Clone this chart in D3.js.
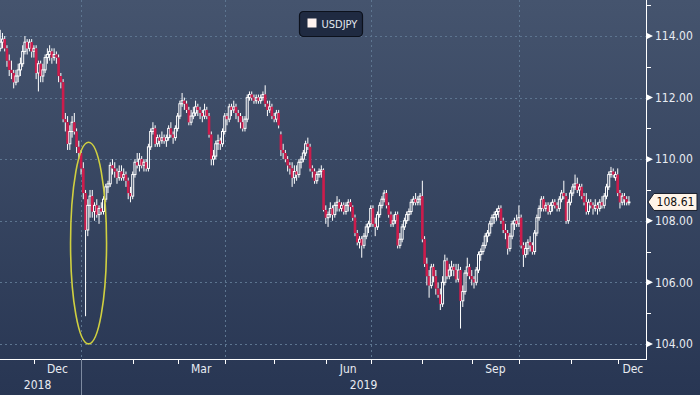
<!DOCTYPE html>
<html>
<head>
<meta charset="utf-8">
<script src="https://cdn.jsdelivr.net/npm/d3@7"></script>
<style>
  body { margin: 0; background: #2b3955; }
  svg { display: block; }
  text { font-family: "DejaVu Sans Condensed", "Liberation Sans Narrow", "DejaVu Sans", sans-serif; }
</style>
</head>
<body>
<svg width="700" height="395"></svg>
<script>
// USDJPY daily candles, 9 Nov 2018 - 9 Dec 2019 (weekdays only)
const opens = [
  113.6,113.8,113.9,113.6,113.2,112.9,112.8,112.5,112.7,112.9,
  113.1,113.5,113.8,113.6,113.8,113.5,113.6,112.8,113.1,112.7,
  112.9,113.3,113.4,113.5,113.3,113.4,113.3,112.7,112.5,111.3,
  111.2,110.5,110.9,111.2,110.9,110.4,110.2,109.7,108.9,107.7,
  108.5,108.8,108.3,108.5,108.2,108.4,108.3,108.7,109.1,109.2,
  109.8,109.7,109.6,109.4,109.6,109.4,109.5,109.3,108.9,108.8,
  109.5,109.9,109.8,110.0,109.8,109.9,109.7,110.4,110.9,111.0,
  110.5,110.7,110.6,110.7,110.6,110.7,111.0,110.8,110.7,111.0,
  111.4,111.8,111.9,111.8,111.6,111.2,111.4,111.5,111.7,111.6,
  111.5,111.4,111.6,111.4,110.8,110.0,110.1,110.5,110.6,110.5,
  110.9,111.4,111.3,111.7,111.6,111.7,111.5,111.4,111.2,111.0,
  111.3,112.0,112.1,112.0,111.9,112.0,111.9,112.0,112.1,111.8,
  111.6,111.7,111.4,111.3,111.5,110.8,110.3,110.2,110.0,109.8,
  109.7,109.4,109.6,109.5,109.9,110.0,110.2,110.5,110.4,109.7,
  109.6,109.3,109.5,109.6,109.65,108.35,108.1,108.2,108.4,108.2,
  108.5,108.6,108.4,108.5,108.3,108.5,108.6,108.45,108.1,107.6,
  107.3,107.4,107.2,107.5,107.8,107.9,108.4,107.9,107.8,108.2,
  108.5,108.7,108.9,108.5,108.2,107.9,108.0,108.2,107.2,107.4,
  107.8,108.0,108.2,108.3,108.6,108.7,108.6,108.7,108.8,107.4,
  106.6,106.2,105.9,106.5,106.2,105.8,105.6,105.3,106.0,106.7,
  106.2,106.4,106.5,106.4,106.1,106.4,105.4,105.7,106.3,106.5,
  106.2,106.1,106.0,106.4,106.9,107.0,107.2,107.5,107.6,107.9,
  108.1,108.2,108.3,108.4,108.0,107.7,107.6,107.1,107.5,107.9,
  108.0,107.9,108.1,107.2,106.9,107.1,107.3,107.2,107.0,107.6,
  108.1,108.4,108.7,108.4,108.5,108.3,108.5,108.6,108.5,108.4,
  108.7,108.9,108.8,108.0,108.6,108.9,109.1,109.2,109.0,109.1,
  108.8,108.6,108.3,108.6,108.5,108.4,108.5,108.4,108.6,108.5,
  108.8,109.1,109.5,109.6,109.4,109.5,108.9,108.6,108.8,108.7,
  108.6
];
const highs = [
  114.2,114.1,114.0,113.7,113.4,113.2,112.9,112.9,113.1,113.3,
  113.7,114.0,113.9,113.9,113.9,113.7,113.7,113.2,113.2,113.1,
  113.4,113.6,113.7,113.6,113.6,113.5,113.4,112.8,112.6,111.5,
  111.4,111.1,111.4,111.5,111.0,110.6,110.3,109.9,109.0,108.7,
  109.0,109.0,108.6,108.7,108.5,108.6,108.8,109.2,109.3,109.9,
  110.0,109.9,109.7,109.8,109.8,109.7,109.6,109.4,109.1,109.6,
  110.0,110.2,110.2,110.1,110.0,110.0,110.5,111.0,111.2,111.1,
  110.8,110.8,110.9,110.8,110.8,111.1,111.2,110.9,111.1,111.5,
  111.9,112.15,112.0,111.9,111.7,111.6,111.7,111.9,111.8,111.7,
  111.6,111.8,111.7,111.5,110.9,110.3,110.6,110.8,110.7,111.0,
  111.5,111.5,111.8,111.8,111.9,111.8,111.6,111.5,111.4,111.4,
  112.1,112.2,112.2,112.1,112.1,112.1,112.1,112.2,112.4,111.9,
  111.9,111.8,111.5,111.6,111.6,110.9,110.5,110.3,110.1,109.9,
  109.9,109.8,109.8,110.0,110.1,110.3,110.6,110.7,110.5,109.8,
  109.7,109.6,109.7,109.8,109.7,108.5,108.3,108.6,108.5,108.6,
  108.8,108.7,108.6,108.6,108.6,108.7,108.7,108.5,108.2,107.7,
  107.5,107.5,107.6,107.9,108.0,108.5,108.5,108.1,108.3,108.6,
  108.8,109.0,109.0,108.6,108.3,108.2,108.3,108.3,107.6,107.9,
  108.1,108.3,108.4,108.7,108.8,108.9,108.8,108.9,109.3,107.5,
  106.8,106.4,106.6,106.6,106.4,106.0,105.8,106.2,106.9,106.8,
  106.6,106.7,106.6,106.6,106.6,106.5,105.9,106.4,106.8,106.6,
  106.4,106.2,106.5,107.0,107.1,107.3,107.6,107.7,108.0,108.2,
  108.3,108.4,108.5,108.5,108.1,107.9,107.7,107.6,108.0,108.1,
  108.2,108.5,108.2,107.3,107.3,107.4,107.5,107.3,107.7,108.2,
  108.5,108.8,108.8,108.6,108.6,108.6,108.7,108.7,108.6,108.8,
  109.0,109.3,108.9,108.7,109.0,109.2,109.5,109.4,109.2,109.2,
  108.9,108.9,108.7,108.7,108.6,108.7,108.6,108.7,108.8,108.9,
  109.2,109.6,109.75,109.7,109.6,109.7,109.0,108.9,108.9,108.8,
  108.8
];
const lows = [
  113.5,113.6,113.5,113.0,112.7,112.6,112.3,112.4,112.5,112.7,
  113.0,113.4,113.4,113.5,113.3,113.3,112.6,112.2,112.5,112.5,
  112.8,113.1,113.2,113.1,113.2,113.1,112.5,112.3,111.2,110.9,
  110.3,110.3,110.7,110.8,110.2,110.0,109.5,108.7,104.9,107.5,
  108.1,108.1,108.0,108.1,107.9,108.2,108.2,108.6,108.9,109.1,
  109.5,109.4,109.2,109.3,109.3,109.3,109.1,108.7,108.6,108.7,
  109.4,109.7,109.6,109.7,109.6,109.6,109.6,110.3,110.8,110.4,
  110.4,110.4,110.5,110.5,110.4,110.6,110.7,110.5,110.6,110.9,
  111.3,111.7,111.6,111.5,111.1,111.1,111.3,111.4,111.4,111.3,
  111.2,111.3,111.3,110.7,109.8,109.8,110.0,110.3,110.3,110.4,
  110.8,111.1,111.2,111.4,111.5,111.3,111.2,111.0,110.9,110.9,
  111.2,111.9,111.9,111.8,111.8,111.8,111.8,111.9,111.7,111.4,
  111.5,111.3,111.2,111.2,111.0,110.1,110.0,109.9,109.6,109.5,
  109.1,109.2,109.3,109.4,109.7,109.9,110.1,110.3,109.6,109.4,
  109.2,109.2,109.4,109.4,108.3,107.9,107.8,108.1,108.0,108.1,
  108.3,108.3,108.3,108.2,108.2,108.3,108.3,108.0,107.5,107.2,
  107.1,106.8,107.1,107.4,107.6,107.8,107.8,107.5,107.7,108.1,
  108.4,108.6,108.4,108.1,107.8,107.8,107.9,107.1,107.1,107.3,
  107.7,107.9,108.0,108.2,108.5,108.5,108.5,108.5,107.3,106.5,
  105.9,105.5,105.8,106.0,105.6,105.5,105.1,105.2,105.9,106.1,
  106.1,106.2,106.2,106.0,106.0,104.5,105.2,105.6,106.2,106.1,
  105.9,105.8,105.9,106.3,106.7,106.9,107.1,107.3,107.5,107.8,
  107.9,108.0,108.1,107.9,107.6,107.4,106.9,107.0,107.4,107.7,
  107.8,107.8,107.1,106.5,106.8,106.9,107.0,106.9,106.9,107.5,
  108.0,108.3,108.3,108.3,108.2,108.2,108.3,108.4,108.3,108.3,
  108.6,108.7,107.9,107.9,108.5,108.8,109.0,108.9,108.8,108.7,
  108.5,108.2,108.2,108.4,108.2,108.3,108.2,108.3,108.4,108.4,
  108.7,109.0,109.4,109.4,109.3,108.8,108.4,108.5,108.5,108.5,
  108.5
];
const closes = [
  113.8,113.9,113.6,113.2,112.9,112.8,112.5,112.7,112.9,113.1,
  113.5,113.8,113.6,113.8,113.5,113.6,112.8,113.1,112.7,112.9,
  113.3,113.4,113.5,113.3,113.4,113.3,112.7,112.5,111.3,111.2,
  110.5,110.9,111.2,110.9,110.4,110.2,109.7,108.9,107.7,108.5,
  108.8,108.3,108.5,108.2,108.4,108.3,108.7,109.1,109.2,109.8,
  109.7,109.6,109.4,109.6,109.4,109.5,109.3,108.9,108.8,109.5,
  109.9,109.8,110.0,109.8,109.9,109.7,110.4,110.9,111.0,110.5,
  110.7,110.6,110.7,110.6,110.7,111.0,110.8,110.7,111.0,111.4,
  111.8,111.9,111.8,111.6,111.2,111.4,111.5,111.7,111.6,111.5,
  111.4,111.6,111.4,110.8,110.0,110.1,110.5,110.6,110.5,110.9,
  111.4,111.3,111.7,111.6,111.7,111.5,111.4,111.2,111.0,111.3,
  112.0,112.1,112.0,111.9,112.0,111.9,112.0,112.1,111.8,111.6,
  111.7,111.4,111.3,111.5,111.1,110.3,110.2,110.0,109.8,109.7,
  109.4,109.6,109.5,109.9,110.0,110.2,110.5,110.4,109.7,109.6,
  109.3,109.5,109.6,109.65,108.35,108.1,108.2,108.4,108.2,108.5,
  108.6,108.4,108.5,108.3,108.5,108.6,108.45,108.1,107.6,107.3,
  107.4,107.2,107.5,107.8,107.9,108.4,107.9,107.8,108.2,108.5,
  108.7,108.9,108.5,108.2,107.9,108.0,108.2,107.2,107.4,107.8,
  108.0,108.2,108.3,108.6,108.7,108.6,108.7,108.8,107.4,106.6,
  106.2,105.9,106.5,106.2,105.8,105.6,105.3,106.0,106.7,106.2,
  106.4,106.5,106.4,106.1,106.4,105.4,105.7,106.3,106.5,106.2,
  106.1,106.0,106.4,106.9,107.0,107.2,107.5,107.6,107.9,108.1,
  108.2,108.3,108.4,108.0,107.7,107.6,107.1,107.5,107.9,108.0,
  107.9,108.1,107.2,106.9,107.1,107.3,107.2,107.0,107.6,108.1,
  108.4,108.7,108.4,108.5,108.3,108.5,108.6,108.5,108.4,108.7,
  108.9,108.8,108.0,108.6,108.9,109.1,109.2,109.0,109.1,108.8,
  108.6,108.3,108.6,108.5,108.4,108.5,108.4,108.6,108.5,108.8,
  109.1,109.5,109.6,109.5,109.5,108.9,108.6,108.8,108.7,108.6,
  108.61
];

// first trading day index of each month (Dec 2018 .. Dec 2019)
const monthStarts = [15, 36, 59, 79, 100, 122, 145, 165, 188, 210, 231, 254, 275];
const monthNames = ["Dec", "", "", "Mar", "", "", "Jun", "", "", "Sep", "", "", "Dec"];
const quarterStarts = [36, 100, 165, 231];
const yearNames = ["2018", "2019"];
const yearStarts = [0, 36];
const yTicks = [104, 106, 108, 110, 112, 114];
const yMinor = [105, 107, 109, 111, 113, 115];
const seriesName = "USDJPY";
const lastPrice = 108.61;
const flashCrashDay = 38;

const svg = d3.select("svg");
const width = +svg.attr("width");
const height = +svg.attr("height");
const plotW = 646;
const plotH = 359;

const defs = svg.append("defs");
const grad = defs.append("linearGradient")
  .attr("id", "bg").attr("x1", 0).attr("y1", 0).attr("x2", 0).attr("y2", 1);
grad.append("stop").attr("offset", "0%").attr("stop-color", "#45546e");
grad.append("stop").attr("offset", "100%").attr("stop-color", "#283653");

svg.append("rect")
  .attr("width", width)
  .attr("height", height)
  .attr("fill", "url(#bg)");

const x = d3.scaleLinear().domain([-0.1, 287.6]).range([0, plotW]);
const y = d3.scaleLinear().domain([103.51, 115.17]).range([plotH, 0]);

const candles = closes.map((c, i) => ({
  i: i, o: opens[i], h: highs[i], l: lows[i], c: c
}));

// grid
const grid = svg.append("g")
  .attr("stroke", "#5d7590")
  .attr("stroke-width", 1)
  .attr("stroke-dasharray", "2,3");

grid.selectAll("line.h")
  .data(yTicks)
  .join("line")
  .attr("x1", 0)
  .attr("x2", plotW)
  .attr("y1", d => Math.round(y(d)) + 0.5)
  .attr("y2", d => Math.round(y(d)) + 0.5);

grid.selectAll("line.v")
  .data(quarterStarts)
  .join("line")
  .attr("x1", d => Math.round(x(d)) + 0.5)
  .attr("x2", d => Math.round(x(d)) + 0.5)
  .attr("y1", 0)
  .attr("y2", plotH);

// candles
const bodyW = 2.0;
const cg = svg.append("g");

cg.selectAll("line.wickHi")
  .data(candles)
  .join("line")
  .attr("x1", d => x(d.i))
  .attr("x2", d => x(d.i))
  .attr("y1", d => y(d.h))
  .attr("y2", d => y(Math.max(d.o, d.c)))
  .attr("stroke", "#ffffff")
  .attr("stroke-width", 1);

cg.selectAll("line.wickLo")
  .data(candles)
  .join("line")
  .attr("x1", d => x(d.i))
  .attr("x2", d => x(d.i))
  .attr("y1", d => y(Math.min(d.o, d.c)))
  .attr("y2", d => y(d.l))
  .attr("stroke", "#ffffff")
  .attr("stroke-width", 1);

cg.selectAll("rect.body")
  .data(candles)
  .join("rect")
  .attr("x", d => x(d.i) - (d.c >= d.o ? bodyW : bodyW + 0.6) / 2)
  .attr("width", d => d.c >= d.o ? bodyW : bodyW + 0.6)
  .attr("y", d => y(Math.max(d.o, d.c)))
  .attr("height", d => Math.max(0.8, Math.abs(y(d.o) - y(d.c))))
  .attr("fill", d => d.c >= d.o ? "none" : "#cc1c4c")
  .attr("stroke", d => d.c >= d.o ? "#ffffff" : "none")
  .attr("stroke-width", 1);

// flash-crash ellipse
const crashTop = highs[flashCrashDay] + 1.55;
const crashBottom = lows[flashCrashDay] - 0.9;
svg.append("ellipse")
  .attr("cx", x(flashCrashDay) + 3)
  .attr("cy", (y(crashTop) + y(crashBottom)) / 2)
  .attr("rx", 18)
  .attr("ry", (y(crashBottom) - y(crashTop)) / 2)
  .attr("fill", "none")
  .attr("stroke", "#d0d040")
  .attr("stroke-width", 1.6);

// right axis
const axisG = svg.append("g");
axisG.append("line")
  .attr("x1", plotW + 0.5).attr("x2", plotW + 0.5)
  .attr("y1", 0).attr("y2", plotH + 0.5)
  .attr("stroke", "#ffffff").attr("stroke-width", 1);

axisG.selectAll("line.minor")
  .data(yMinor)
  .join("line")
  .attr("x1", plotW)
  .attr("x2", plotW + 5)
  .attr("y1", d => Math.round(y(d)) + 0.5)
  .attr("y2", d => Math.round(y(d)) + 0.5)
  .attr("stroke", "#ffffff");

axisG.selectAll("path.arrow")
  .data(yTicks)
  .join("path")
  .attr("d", d => `M${plotW},${y(d) - 3.5} L${plotW + 7},${y(d)} L${plotW},${y(d) + 3.5} Z`)
  .attr("fill", "#ffffff");

axisG.selectAll("text.ylab")
  .data(yTicks)
  .join("text")
  .attr("x", plotW + 9)
  .attr("y", d => y(d))
  .attr("dy", "0.36em")
  .attr("fill", "#e8ecf2")
  .attr("font-size", 12)
  .text(d => d3.format(".2f")(d));

// last price tag
const ly = y(lastPrice);
axisG.append("path")
  .attr("d", `M${plotW + 2},${ly} L${plotW + 8},${ly - 8.5} L697,${ly - 8.5} L697,${ly + 8.5} L${plotW + 8},${ly + 8.5} Z`)
  .attr("fill", "#fff4e8")
  .attr("stroke", "#1a1f2c")
  .attr("stroke-width", 1);

axisG.append("text")
  .attr("x", 675.5)
  .attr("y", ly)
  .attr("dy", "0.36em")
  .attr("text-anchor", "middle")
  .attr("fill", "#111111")
  .attr("font-size", 12)
  .text(d3.format(".2f")(lastPrice));

// bottom axis
const xg = svg.append("g");
xg.append("line")
  .attr("x1", 0).attr("x2", plotW + 1)
  .attr("y1", plotH + 0.5).attr("y2", plotH + 0.5)
  .attr("stroke", "#ffffff");

xg.selectAll("line.mtick")
  .data(monthStarts)
  .join("line")
  .attr("x1", d => Math.round(x(d)) + 0.5)
  .attr("x2", d => Math.round(x(d)) + 0.5)
  .attr("y1", plotH)
  .attr("y2", plotH + 5)
  .attr("stroke", "#ffffff");

xg.selectAll("text.mlab")
  .data(monthStarts.map((s, k) => ({ s: s, e: k + 1 < monthStarts.length ? monthStarts[k + 1] : null, name: monthNames[k] }))
    .filter(d => d.name))
  .join("text")
  .attr("x", d => d.e === null ? (x(d.s) + plotW) / 2 + 1 : (x(d.s) + x(d.e)) / 2)
  .attr("y", 373)
  .attr("text-anchor", "middle")
  .attr("fill", "#e8ecf2")
  .attr("font-size", 12)
  .text(d => d.name);

xg.append("line")
  .attr("x1", Math.round(x(yearStarts[1])) + 0.5)
  .attr("x2", Math.round(x(yearStarts[1])) + 0.5)
  .attr("y1", plotH)
  .attr("y2", height)
  .attr("stroke", "#7d8aa0");

xg.selectAll("text.ylab2")
  .data(yearNames)
  .join("text")
  .attr("x", (d, k) => k === 0 ? x(yearStarts[1]) / 2 - 3 : (x(yearStarts[1]) + plotW) / 2)
  .attr("y", 389)
  .attr("text-anchor", "middle")
  .attr("fill", "#e8ecf2")
  .attr("font-size", 12)
  .text(d => d);

// legend
const legend = svg.append("g").attr("transform", "translate(299.5, 11.5)");
legend.append("rect")
  .attr("width", 63)
  .attr("height", 25)
  .attr("rx", 4)
  .attr("fill", "#1f2a41")
  .attr("stroke", "#0c111c")
  .attr("stroke-width", 1.2);
legend.append("rect")
  .attr("x", 8)
  .attr("y", 7)
  .attr("width", 9)
  .attr("height", 9)
  .attr("fill", "#fff3f0");
legend.append("text")
  .attr("x", 22)
  .attr("y", 16.5)
  .attr("fill", "#e2e7ef")
  .attr("font-size", 11)
  .text(seriesName);
</script>
</body>
</html>
